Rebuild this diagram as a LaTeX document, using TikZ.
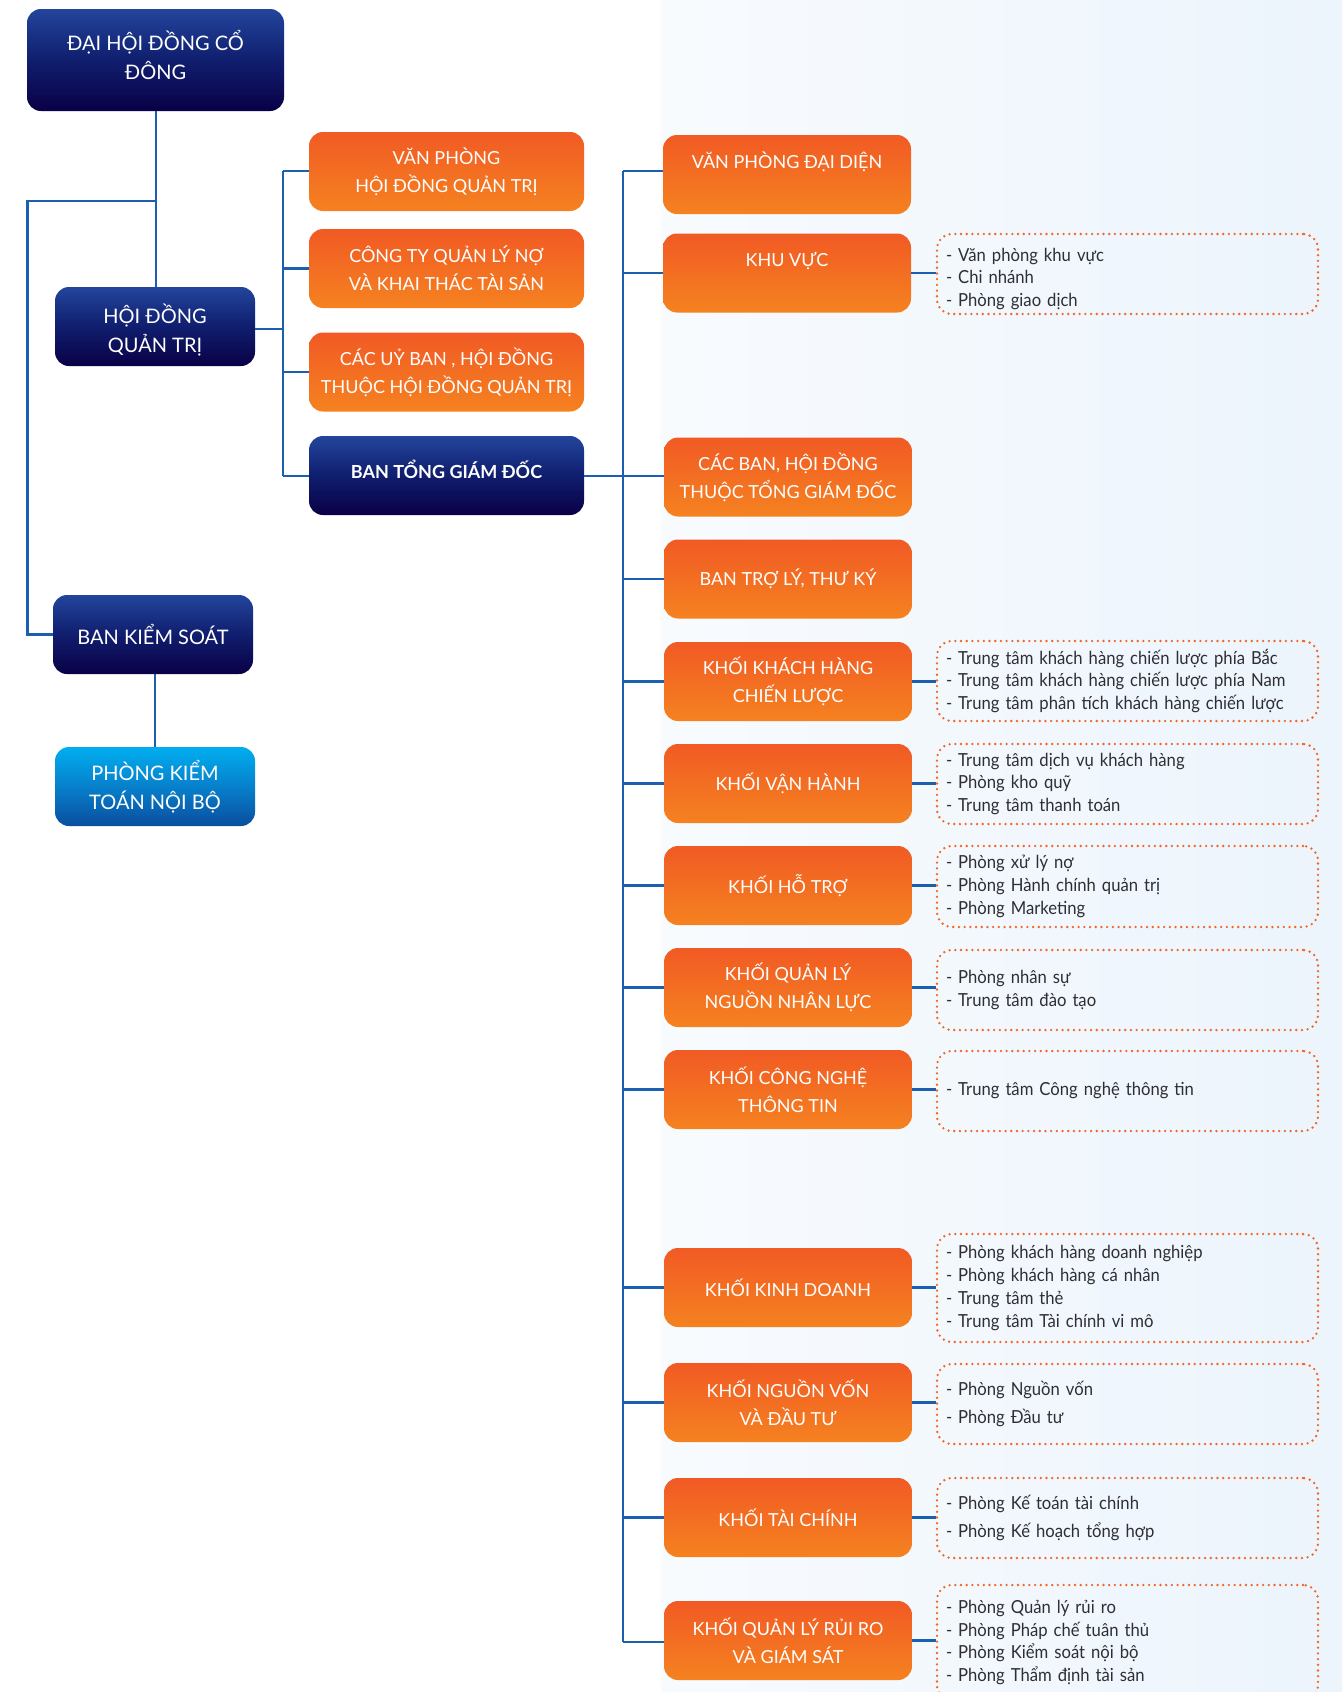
\documentclass[tikz,border=0pt]{standalone}
\usepackage{fontspec}
\setmainfont{Lato}
\newfontfamily\detailfont[FakeStretch=0.925]{Lato}
\usetikzlibrary{calc}
\definecolor{navyT}{HTML}{22459C}
\definecolor{navyM}{HTML}{101E6E}
\definecolor{navyB}{HTML}{0A0046}
\definecolor{orT}{HTML}{F15A24}
\definecolor{orB}{HTML}{F58220}
\definecolor{cyT}{HTML}{00AEEF}
\definecolor{cyM}{HTML}{0780CC}
\definecolor{cyB}{HTML}{0A4E9E}
\definecolor{orD}{HTML}{F26522}
\definecolor{lineblue}{HTML}{1D5FAF}
\definecolor{txt}{HTML}{2E2E33}
\definecolor{bgL}{HTML}{F8FBFE}
\definecolor{bgR}{HTML}{ECF4FC}
\begin{document}
\begin{tikzpicture}[x=1pt,y=-1pt,
  navybox/.style={rounded corners=14pt, top color=navyT, bottom color=navyB, middle color=navyM,
    text=white, align=center, inner sep=0pt, minimum width=200pt, minimum height=79pt,
    font=\fontsize{20}{29}\selectfont},
  cyanbox/.style={navybox, top color=cyT, bottom color=cyB, middle color=cyM},
  orbox/.style={rounded corners=14pt, top color=orT, bottom color=orB,
    text=white, align=center, inner sep=0pt, minimum width=248pt, minimum height=79pt,
    font=\fontsize{18}{28}\selectfont},
  orboxA/.style={orbox, minimum width=275pt},
  detail/.style={draw=orD, line width=2.6pt, dash pattern=on 0pt off 5.7pt, line cap=round,
    rounded corners=15pt, minimum width=381pt, text width=363pt, inner xsep=9pt, inner ysep=0pt,
    align=left, text=txt, font=\detailfont\fontsize{18}{22.7}\selectfont},
  detailwide/.style={detail, font=\detailfont\fontsize{18}{28}\selectfont},
  link/.style={draw=lineblue, line width=2.8pt}
]
\useasboundingbox (0,0) rectangle (1342,1692);
\clip (0,0) rectangle (1342,1692);
\fill[white] (0,0) rectangle (1342,1692);
\shade[left color=bgL, right color=bgR] (661,0) rectangle (1342,1692);

% left column
\node[navybox, minimum width=257pt, minimum height=102pt] (dhcd) at (155.5,60) {ĐẠI HỘI ĐỒNG CỔ\\ĐÔNG\rule[-10pt]{0pt}{10pt}};
\node[navybox] (hdqt) at (155,326.5) {\rule{0pt}{26pt}HỘI ĐỒNG\\QUẢN TRỊ};
\node[navybox] (bks) at (153,634.5) {BAN KIỂM SOÁT};
\node[cyanbox] (pktnb) at (155,786.5) {PHÒNG KIỂM\\TOÁN NỘI BỘ};

% column 1
\node[orboxA] (vphdqt) at (446.5,171.5) {VĂN PHÒNG\\HỘI ĐỒNG QUẢN TRỊ};
\node[orboxA] (ctql) at (446.5,268.5) {CÔNG TY QUẢN LÝ NỢ\\VÀ KHAI THÁC TÀI SẢN};
\node[orboxA] (cub) at (446.5,372) {CÁC UỶ BAN , HỘI ĐỒNG\\THUỘC HỘI ĐỒNG QUẢN TRỊ};
\node[navybox, minimum width=275pt, font=\fontsize{18}{28}\selectfont\bfseries] (btgd) at (446.5,475.5) {\raisebox{12pt}{BAN TỔNG GIÁM ĐỐC}};

% column 2
\node[orbox] (vpdd) at (787,174.5) {VĂN PHÒNG ĐẠI DIỆN\\\phantom{X}};
\node[orbox] (kv) at (787,273) {KHU VỰC\\\phantom{X}};
\node[orbox] (cbhd) at (788,477) {CÁC BAN, HỘI ĐỒNG\\THUỘC TỔNG GIÁM ĐỐC};
\node[orbox] (btl) at (788,579) {BAN TRỢ LÝ, THƯ KÝ};
\node[orbox] (kkhcl) at (788,681.5) {KHỐI KHÁCH HÀNG\\CHIẾN LƯỢC};
\node[orbox] (kvh) at (788,783.5) {KHỐI VẬN HÀNH};
\node[orbox] (kht) at (788,885.5) {KHỐI HỖ TRỢ};
\node[orbox] (kqlnnl) at (788,987.5) {KHỐI QUẢN LÝ\\NGUỒN NHÂN LỰC};
\node[orbox] (kcntt) at (788,1089.5) {KHỐI CÔNG NGHỆ\\THÔNG TIN};
\node[orbox] (kkd) at (788,1287.5) {KHỐI KINH DOANH};
\node[orbox] (knvdt) at (788,1402.5) {KHỐI NGUỒN VỐN\\VÀ ĐẦU TƯ};
\node[orbox] (ktc) at (788,1517.5) {KHỐI TÀI CHÍNH};
\node[orbox] (kqlrr) at (788,1640.5) {KHỐI QUẢN LÝ RỦI RO\\VÀ GIÁM SÁT};

% detail boxes
\node[detail, minimum height=80pt] (dkv) at (1127.5,274) {\rule{0pt}{23pt}- Văn phòng khu vực\\- Chi nhánh\\- Phòng giao dịch};
\node[detail, minimum height=80pt] (dkkhcl) at (1127.5,681) {- Trung tâm khách hàng chiến lược phía Bắc\\- Trung tâm khách hàng chiến lược phía Nam\\- Trung tâm phân tích khách hàng chiến lược};
\node[detail, minimum height=80pt] (dkvh) at (1127.5,784) {- Trung tâm dịch vụ khách hàng\\- Phòng kho quỹ\\- Trung tâm thanh toán};
\node[detail, minimum height=81pt] (dkht) at (1127.5,886.5) {- Phòng xử lý nợ\\- Phòng Hành chính quản trị\\- Phòng Marketing};
\node[detail, minimum height=80pt] (dkqlnnl) at (1127.5,990) {- Phòng nhân sự\\- Trung tâm đào tạo};
\node[detail, minimum height=80pt] (dkcntt) at (1127.5,1091) {- Trung tâm Công nghệ thông tin};
\node[detail, minimum height=108pt] (dkkd) at (1127.5,1288) {- Phòng khách hàng doanh nghiệp\\- Phòng khách hàng cá nhân\\- Trung tâm thẻ\\- Trung tâm Tài chính vi mô};
\node[detailwide, minimum height=80pt] (dknvdt) at (1127.5,1404) {- Phòng Nguồn vốn\\- Phòng Đầu tư};
\node[detailwide, minimum height=80pt] (dktc) at (1127.5,1518) {- Phòng Kế toán tài chính\\- Phòng Kế hoạch tổng hợp};
\node[detail, minimum height=115pt] (dkqlrr) at (1127.5,1642.5) {- Phòng Quản lý rủi ro\\- Phòng Pháp chế tuân thủ\\- Phòng Kiểm soát nội bộ\\- Phòng Thẩm định tài sản};

% connector coordinates
\coordinate (jl) at (156,201);
\coordinate (jlc) at (27.5,201);
\coordinate (b1top) at (283,171);
\coordinate (b1bot) at (283,476);
\coordinate (b2top) at (623,171);
\coordinate (b2bot) at (623,1642);

% left column links
\draw[link] (dhcd.south -| jl) -- (hdqt.north -| jl);
\draw[link] (jl) -- (jlc) |- (bks.west);
\draw[link] (bks.south -| pktnb.north) -- (pktnb.north);

% bus 1
\draw[link] (b1top) -- (b1bot);
\draw[link] (hdqt.east |- 0,329) -- (b1top |- 0,329);
\draw[link] (b1top) -- (vphdqt.west |- b1top);
\draw[link] (b1top |- ctql.west) -- (ctql.west);
\draw[link] (b1top |- cub.west) -- (cub.west);
\draw[link] (b1bot) -- (btgd.west |- b1bot);

% bus 2
\draw[link] (b2top) -- (b2bot);
\draw[link] (btgd.east |- 0,476) -- (cbhd.west |- 0,476);
\draw[link] (b2top) -- (vpdd.west |- b2top);
\foreach \n in {kv,btl,kkhcl,kvh,kht,kqlnnl,kcntt,kkd,knvdt,ktc}
  \draw[link] (b2top |- \n.west) -- (\n.west);
\draw[link] (b2bot) -- (kqlrr.west |- b2bot);

% box to detail links
\foreach \n in {kv,kkhcl,kvh,kht,kqlnnl,kcntt,kkd,knvdt,ktc,kqlrr}
  \draw[link] (\n.east) -- (\n.east -| d\n.west);
\end{tikzpicture}
\end{document}
